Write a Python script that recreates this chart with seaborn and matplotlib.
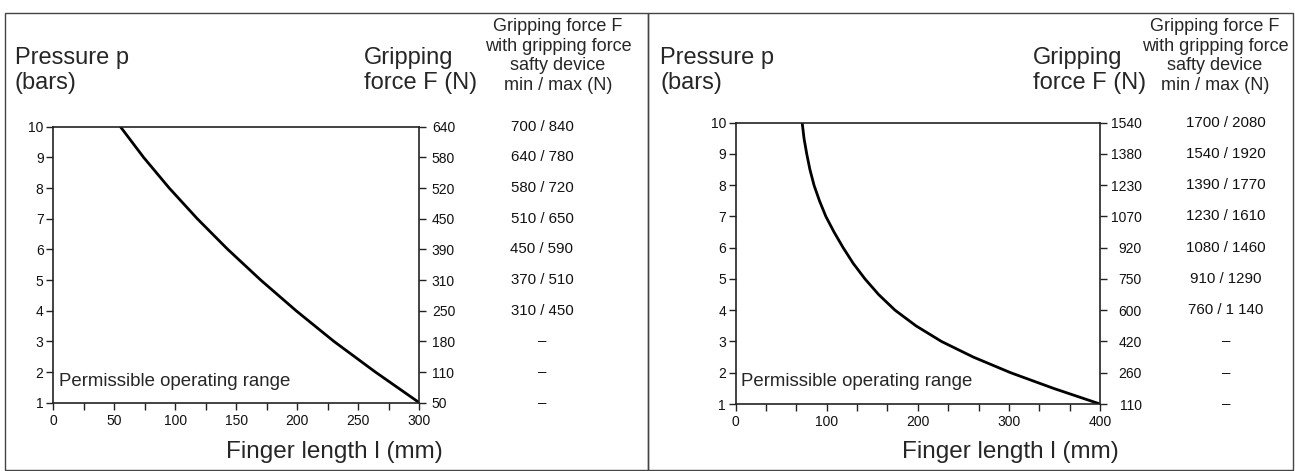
import matplotlib
matplotlib.use("Agg")
import numpy as np
import pandas as pd
import seaborn as sns
import matplotlib.pyplot as plt
from matplotlib.patches import Rectangle
from matplotlib.transforms import blended_transform_factory

# values (top row = 10 bar, bottom row = 1 bar)
pressure = [10, 9, 8, 7, 6, 5, 4, 3, 2, 1]
finger_left = [55, 74, 95, 118, 143, 170, 199, 230, 264, 300]
# right curve bends strongly, read at half-bar steps
pressure_right = [10, 9.5, 9, 8.5, 8, 7.5, 7, 6.5, 6, 5.5, 5, 4.5, 4, 3.5, 3, 2.5, 2, 1.5, 1]
finger_right = [73, 75, 78, 81.5, 86, 92, 99, 108, 118, 129, 142, 157, 175, 198, 226,
                261, 302, 349, 400]
force_left = ["640", "580", "520", "450", "390", "310", "250", "180", "110", "50"]
force_right = ["1540", "1380", "1230", "1070", "920", "750", "600", "420", "260", "110"]
safety_left = ["700 / 840", "640 / 780", "580 / 720", "510 / 650", "450 / 590",
               "370 / 510", "310 / 450", "–", "–", "–"]
safety_right = ["1700 / 2080", "1540 / 1920", "1390 / 1770", "1230 / 1610", "1080 / 1460",
                "910 / 1290", "760 / 1 140", "–", "–", "–"]

sns.set_style("white")
plt.rcParams["font.family"] = ["Liberation Sans", "DejaVu Sans"]

W, H = 1295, 471
fig = plt.figure(figsize=(W / 100, H / 100), dpi=100)


def fx(x):
    return x / W


def fy(y):
    return 1 - y / H


panels = [
    dict(box=(53.3, 419.3, 126.7, 402.7), xmax=300, lab_step=50,
         curve_p=pressure, finger=finger_left, force=force_left, safety=safety_left,
         val_x=542, head_x=558, grip_x=364, fl_x=334, right_ha="left", right_pad=4.0),
    dict(box=(735.7, 1100.0, 122.7, 404.0), xmax=400, lab_step=100,
         curve_p=pressure_right, finger=finger_right, force=force_right, safety=safety_right,
         val_x=1226, head_x=1215, grip_x=1033, fl_x=1010, right_ha="right", right_pad=25),
]

for i, p in enumerate(panels):
    l, r, t, b = p["box"]
    ax = fig.add_axes([fx(l), fy(b), (r - l) / W, (b - t) / H])
    df = pd.DataFrame({"finger": p["finger"], "pressure": p["curve_p"]})
    sns.lineplot(data=df, x="finger", y="pressure", sort=False, estimator=None,
                 color="black", lw=2.0, ax=ax, solid_joinstyle="round")
    ax.set_xlim(0, p["xmax"])
    ax.set_ylim(1, 10)
    ax.set_xlabel("")
    ax.set_ylabel("")
    for s in ax.spines.values():
        s.set_color("#222222")
        s.set_linewidth(1.2)

    xt = np.linspace(0, p["xmax"], 13)
    ax.set_xticks(xt)
    ax.set_xticklabels([f"{v:.0f}" if abs(v % p["lab_step"]) < 1e-6 else "" for v in xt])
    ax.set_yticks(pressure)
    ax.set_yticklabels([str(v) for v in pressure])
    ax.tick_params(axis="both", direction="out", length=5, width=1, color="#222222",
                   labelsize=10, labelcolor="#111111")
    ax.tick_params(axis="x", pad=3.0, bottom=True)
    ax.tick_params(axis="y", pad=2.0, left=True)

    ax2 = ax.twinx()
    ax2.set_ylim(1, 10)
    ax2.set_yticks(pressure)
    ax2.set_yticklabels(p["force"])
    ax2.tick_params(axis="y", direction="out", length=5, width=1, color="#222222",
                    labelsize=10, labelcolor="#111111", pad=p["right_pad"], right=True)
    for lbl in ax2.get_yticklabels():
        lbl.set_ha(p["right_ha"])
    for s in ax2.spines.values():
        s.set_visible(False)

    tr = blended_transform_factory(fig.transFigure, ax.transData)
    for pv, sv in zip(pressure, p["safety"]):
        fig.text(fx(p["val_x"]), pv, sv, transform=tr, ha="center", va="center",
                 fontsize=10.8, color="#111111")

    x0 = 0 if i == 0 else 645
    fig.text(fx(x0 + 15), fy(47), "Pressure p\n(bars)", ha="left", va="top",
             fontsize=17, linespacing=1.15)
    fig.text(fx(p["grip_x"]), fy(47), "Gripping\nforce F (N)", ha="left", va="top",
             fontsize=17, linespacing=1.15)
    fig.text(fx(p["head_x"]), fy(18), "Gripping force F\nwith gripping force\nsafty device\nmin / max (N)",
             ha="center", va="top", fontsize=13, linespacing=1.2)
    fig.text(fx(p["fl_x"]), fy(452), "Finger length l (mm)", ha="center", va="center",
             fontsize=17.5)
    fig.text(fx(l + 5.5), fy(386), "Permissible operating range", ha="left", va="baseline",
             fontsize=13.4)

# outer frames
fig.add_artist(Rectangle((fx(5), fy(470)), 643 / W, 457 / H, fill=False,
                         ec="#444444", lw=1, transform=fig.transFigure))
fig.add_artist(Rectangle((fx(648), fy(470)), 645 / W, 457 / H, fill=False,
                         ec="#444444", lw=1, transform=fig.transFigure))

fig.savefig("out.png", dpi=100)
